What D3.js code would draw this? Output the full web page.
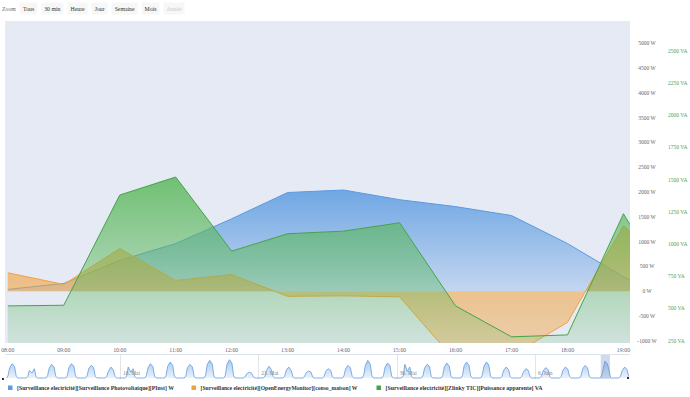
<!DOCTYPE html>
<html>
<head>
<meta charset="utf-8">
<script src="https://cdn.jsdelivr.net/npm/d3@7"></script>
<style>
body{margin:0;background:#fff;}
svg text{font-family:"Liberation Serif",serif;}
</style>
</head>
<body>
<div id="chart"></div>
<script>
// hourly points for the selected day (9 June 2016)
var times = ["08:00","09:00","10:00","11:00","12:00","13:00","14:00","15:00","16:00","17:00","18:00","19:00","19:07"];
var pinst = [35,155,620,960,1460,1990,2040,1845,1705,1525,960,290,220];
var conso = [370,135,860,215,335,-105,-95,-115,-1410,-1300,-630,1320,1200];
var papp  = [520,525,1380,1520,945,1080,1100,1165,520,280,295,1235,1150];

var wTicks  = [-1000,-500,0,500,1000,1500,2000,2500,3000,3500,4000,4500,5000];
var vaTicks = [250,500,750,1000,1250,1500,1750,2000,2250,2500];

// navigator: one row per day from 10 May, values at these hours
var navStart = "2016-05-10";
var navHours = [6,8,10,13,16,18,20];
var navValues = [
 [0,250,1200,1700,1350,200,0],
 [0,200,900,600,1100,150,0],
 [0,280,1150,1620,1300,220,0],
 [0,260,1250,1700,1400,240,0],
 [0,230,1100,1500,1250,200,0],
 [0,200,800,1300,950,180,0],
 [0,220,1300,700,1100,160,0],
 [0,270,1200,1700,1350,230,0],
 [0,300,1400,1900,1500,250,0],
 [0,260,1250,1620,1300,220,0],
 [0,320,1600,2100,1700,260,0],
 [0,330,1650,2180,1750,270,0],
 [0,150,500,700,550,120,0],
 [0,220,900,1390,1000,180,0],
 [0,200,950,1300,900,170,0],
 [0,160,600,830,700,140,0],
 [0,190,800,1100,900,160,0],
 [0,240,1100,1500,1200,200,0],
 [0,320,1500,2100,1650,250,0],
 [0,280,1300,1780,1450,230,0],
 [0,250,1620,800,1300,200,0],
 [0,260,1200,1620,1350,210,0],
 [0,280,1350,1780,1400,230,0],
 [0,300,1450,1900,1500,240,0],
 [0,290,1400,1900,1550,240,0],
 [0,200,900,1300,1000,180,0],
 [0,190,700,1100,900,160,0],
 [0,200,850,1230,1000,170,0],
 [0,210,900,1300,1050,180,0],
 [0,240,1100,1500,1200,200,0],
 [0,35,620,1990,1710,960,0],
 [0,200,900,1300,1000,150]
];

var zoomButtons = ["Tous","30 min","Heure","Jour","Semaine","Mois","Année"];
var seriesNames = [
 "[Surveillance electricité][Surveillance Photovoltaique][PInst] W",
 "[Surveillance electricité][OpenEnergyMonitor][conso_maison] W",
 "[Surveillance electricité][Zlinky TIC][Puissance apparente] VA"
];
var colors = ["#5b9be0","#f2a23c","#45a449"];

var W = 690, H = 397;
var pLeft = 5, pRight = 630, pTop = 21, pBottom = 343;

var svg = d3.select("#chart").append("svg").attr("width",W).attr("height",H);
var defs = svg.append("defs");

var fr = d3.timeFormatLocale({
 dateTime:"%A %e %B %Y à %X", date:"%d/%m/%Y", time:"%H:%M:%S", periods:["AM","PM"],
 days:["dimanche","lundi","mardi","mercredi","jeudi","vendredi","samedi"],
 shortDays:["dim.","lun.","mar.","mer.","jeu.","ven.","sam."],
 months:["janvier","février","mars","avril","mai","juin","juillet","août","septembre","octobre","novembre","décembre"],
 shortMonths:["Jan","Fév","Mar","Avr","Mai","Juin","Juil","Aoû","Sep","Oct","Nov","Déc"]
});

var parseT = d3.timeParse("%Y-%m-%d %H:%M");
var day = "2016-06-09";
var pts = times.map(function(t,i){ return {t:parseT(day+" "+t), p:pinst[i], c:conso[i], v:papp[i]}; });

var x = d3.scaleTime()
 .domain([parseT(day+" 07:57"), parseT(day+" 19:07")])
 .range([pLeft,pRight]);
var yW = d3.scaleLinear().domain([-1000,5000]).range([340.7,43.3]);
var yVA = d3.scaleLinear().domain([250,2500]).range([340.7,50.7]);

// ---- range selector ----
svg.append("text").attr("x",2).attr("y",9).attr("dominant-baseline","central")
 .style("font-size","5.8px").style("fill","#666").text("Zoom");
var bx = 20;
zoomButtons.forEach(function(b,i){
 var g = svg.append("g");
 var r = g.append("rect").attr("y",2.5).attr("height",12).attr("rx",1).attr("fill","#f7f7f7");
 var t = g.append("text").attr("y",9).attr("dominant-baseline","central")
  .style("font-size","5.8px").style("fill", i==zoomButtons.length-1 ? "#ccc" : "#333").text(b);
 var w = t.node().getComputedTextLength();
 t.attr("x",bx+3);
 r.attr("x",bx).attr("width",w+6);
 bx += w+6+4;
});

// ---- plot ----
svg.append("rect").attr("x",pLeft).attr("y",pTop).attr("width",pRight-pLeft).attr("height",pBottom-pTop)
 .attr("fill","#e6eaf5");

defs.append("clipPath").attr("id","clip").append("rect")
 .attr("x",pLeft).attr("y",pTop).attr("width",pRight-pLeft).attr("height",pBottom-pTop);

function grad(id,color,o0,o1){
 var g = defs.append("linearGradient").attr("id",id).attr("x1",0).attr("y1",0).attr("x2",0).attr("y2",1);
 g.append("stop").attr("offset",0).attr("stop-color",color).attr("stop-opacity",o0);
 g.append("stop").attr("offset",1).attr("stop-color",color).attr("stop-opacity",o1);
}
grad("gb",colors[0],0.85,0.25);
grad("go",colors[1],0.75,0.35);
grad("gg","#5cb85c",0.85,0.04);
grad("gn","#6fa8e8",0.6,0.15);

var plot = svg.append("g").attr("clip-path","url(#clip)");

var series = [
 {key:"p", y:yW, y0:yW(0), fill:"url(#gb)", color:colors[0]},
 {key:"c", y:yW, y0:yW(0), fill:"url(#go)", color:colors[1]},
 {key:"v", y:yVA, y0:yVA(0), fill:"url(#gg)", color:colors[2]}
];
series.forEach(function(s){
 var area = d3.area().x(function(d){return x(d.t);}).y0(s.y0).y1(function(d){return s.y(d[s.key]);});
 var line = d3.line().x(function(d){return x(d.t);}).y(function(d){return s.y(d[s.key]);});
 plot.append("path").datum(pts).attr("d",area).attr("fill",s.fill);
 plot.append("path").datum(pts).attr("d",line).attr("fill","none").attr("stroke",s.color).attr("stroke-width",1);
});

// x axis
var hourTicks = d3.timeHour.range(parseT(day+" 08:00"), parseT(day+" 19:30"));
var xa = svg.append("g");
xa.selectAll("text").data(hourTicks).enter().append("text")
 .attr("x",function(d){return x(d);}).attr("y",350).attr("text-anchor","middle").attr("dominant-baseline","central")
 .style("font-size","5.8px").style("fill","#666").text(d3.timeFormat("%H:%M"));

// right axes
svg.append("g").selectAll("text").data(wTicks).enter().append("text")
 .attr("x",647).attr("y",function(d){return yW(d);}).attr("text-anchor","middle").attr("dominant-baseline","central")
 .style("font-size","5.5px").style("fill","#666").text(function(d){return d+" W";});
svg.append("g").selectAll("text").data(vaTicks).enter().append("text")
 .attr("x",668).attr("y",function(d){return yVA(d);}).attr("dominant-baseline","central")
 .style("font-size","5.5px").style("fill","#4f9f4f").text(function(d){return d+" VA";});

// ---- navigator ----
var parseD = d3.timeParse("%Y-%m-%d");
var d0 = parseD(navStart);
var navPts = [];
navValues.forEach(function(row,i){
 row.forEach(function(v,j){
  navPts.push({t:d3.timeHour.offset(d3.timeDay.offset(d0,i),navHours[j]), v:v});
 });
});
var nx = d3.scaleTime()
 .domain([parseT("2016-05-10 04:20"), parseT("2016-06-10 19:30")])
 .range([pLeft,pRight]);
var ny = d3.scaleLinear().domain([0,2500]).range([378,357]);
var nav = svg.append("g");
nav.append("line").attr("x1",pLeft).attr("x2",pRight).attr("y1",354.5).attr("y2",354.5).attr("stroke","#dde3ee");
var weeks = d3.timeMonday.range(nx.domain()[0], nx.domain()[1]);
nav.selectAll(".wl").data(weeks).enter().append("line")
 .attr("x1",function(d){return Math.round(nx(d))+0.5;}).attr("x2",function(d){return Math.round(nx(d))+0.5;})
 .attr("y1",355).attr("y2",379).attr("stroke","#e4e4e4");
nav.append("path").datum(navPts)
 .attr("d",d3.area().x(function(d){return nx(d.t);}).y0(378).y1(function(d){return ny(d.v);}))
 .attr("fill","url(#gn)");
nav.append("path").datum(navPts)
 .attr("d",d3.line().x(function(d){return nx(d.t);}).y(function(d){return ny(d.v);}))
 .attr("fill","none").attr("stroke","#4f8fd8").attr("stroke-width",0.7);
nav.selectAll(".wt").data(weeks).enter().append("text")
 .attr("x",function(d){return nx(d)+3;}).attr("y",373).attr("dominant-baseline","central")
 .style("font-size","5.5px").style("fill","#888").text(fr.format("%e. %b"));
// selected range
nav.append("rect").attr("x",nx(x.domain()[0])).attr("width",nx(x.domain()[1])-nx(x.domain()[0]))
 .attr("y",355).attr("height",24).attr("fill","rgba(102,133,194,0.3)");
nav.append("rect").attr("x",2).attr("y",378).attr("width",2).attr("height",2).attr("fill","#333");
nav.append("rect").attr("x",627).attr("y",377).attr("width",2).attr("height",2).attr("fill","#333");

// ---- legend ----
var legX = [8,191.5,376.5];
seriesNames.forEach(function(n,i){
 svg.append("rect").attr("x",legX[i]).attr("y",385.5).attr("width",4.5).attr("height",4.5).attr("fill",colors[i]);
 svg.append("text").attr("x",legX[i]+9).attr("y",388).attr("dominant-baseline","central")
  .attr("textLength",157).attr("lengthAdjust","spacingAndGlyphs")
  .style("font-size","5.8px").style("font-weight","bold").style("fill","#333").text(n);
});
</script>
</body>
</html>
